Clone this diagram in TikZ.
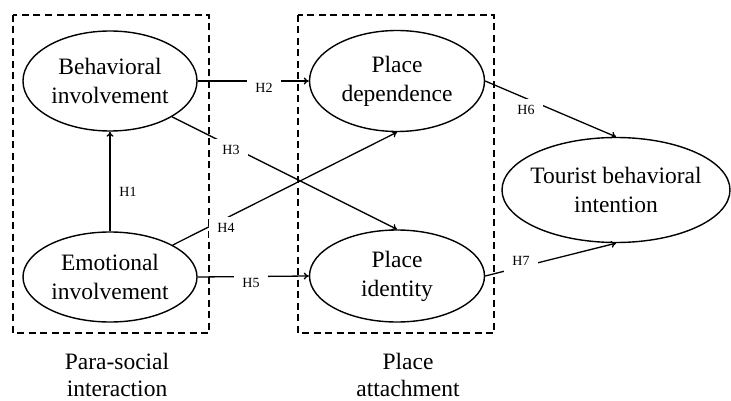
\documentclass[tikz,border=0pt]{standalone}
\usepackage{fontspec}
\setmainfont{Liberation Serif}
\usetikzlibrary{arrows.meta,shapes.geometric}
\begin{document}
\begin{tikzpicture}[x=1pt,y=-1pt,
  construct/.style={ellipse,draw,line width=1.4pt,inner sep=0pt,align=center,
    font=\fontsize{23.5}{29}\selectfont},
  groupbox/.style={draw,line width=1.3pt,dash pattern=on 7pt off 4.5pt},
  conn/.style={line width=1.3pt,-{To[length=5pt,width=7pt]}},
  hyp/.style={fill=white,inner xsep=8pt,inner ysep=6pt,font=\fontsize{14}{16}\selectfont},
  grouplabel/.style={anchor=base,align=center,inner sep=1pt,font=\fontsize{23.5}{27}\selectfont}]
\useasboundingbox (0,0) rectangle (731,401);
% group boxes
\draw[groupbox] (13,15) rectangle (209,333);
\draw[groupbox] (298,15) rectangle (494,333);
% constructs
\node[construct,minimum width=174pt,minimum height=100pt] (bi) at (110,81) {Behavioral\\involvement};
\node[construct,minimum width=174pt,minimum height=90pt] (ei) at (110,277) {Emotional\\involvement};
\node[construct,minimum width=175pt,minimum height=101pt] (pd) at (397,81) {Place\\dependence};
\node[construct,minimum width=175pt,minimum height=92pt] (pi) at (397,276) {Place\\identity};
\node[construct,minimum width=228pt,minimum height=105pt,inner xsep=-10pt] (tbi) at (616,190) {Tourist behavioral\\intention};
% connectors
\draw[conn] (ei.north) -- (bi.south);
\draw[conn] (bi.east) -- (pd.west);
\draw[conn] (bi.-30) -- (pi.north);
\draw[conn] (ei.27) -- (pd.south);
\draw[conn] (ei.east) -- (pi.west);
\draw[conn] (pd.east) -- (tbi.north);
\draw[conn] (pi.east) -- (tbi.south);
% hypothesis labels
\node[hyp,fill=none] (h1) at (128,192) {H1};
\node[hyp] (h2) at (264,88) {H2};
\node[hyp] (h3) at (231,150) {H3};
\node[hyp] (h4) at (226,228) {H4};
\node[hyp] (h5) at (251,283) {H5};
\node[hyp] (h6) at (526,110) {H6};
\node[hyp] (h7) at (521,261) {H7};
% group labels
\node[grouplabel] (g1) at (117,396) {Para-social\\interaction};
\node[grouplabel] (g2) at (408,396) {Place\\attachment};
\end{tikzpicture}
\end{document}
